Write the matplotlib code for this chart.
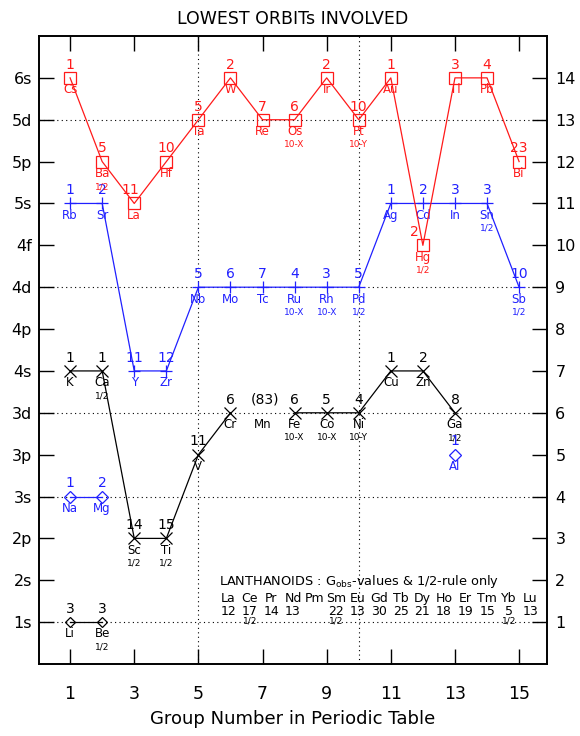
import numpy as np
import matplotlib
matplotlib.use('Agg')
import matplotlib.pyplot as plt

# ---- data ----
orbit_labels = ['1s', '2s', '2p', '3s', '3p', '3d', '4s', '4p', '4d', '4f', '5s', '5p', '5d', '6s']
group_ticks = [1, 3, 5, 7, 9, 11, 13, 15]

# period 2 (black diamonds)
p2_names = ['Li', 'Be']
p2_group = [1, 2]
p2_level = [1, 1]
p2_count = ['3', '3']
p2_note = ['', '1/2']

# period 3 (blue diamonds)
p3_names = ['Na', 'Mg']
p3_group = [1, 2]
p3_level = [4, 4]
p3_count = ['1', '2']
p3_note = ['', '']

# Al, not connected
al_group = [13]
al_level = [5]

# period 4 (black crosses), Mn has no marker
p4_names = ['K', 'Ca', 'Sc', 'Ti', 'V', 'Cr', 'Mn', 'Fe', 'Co', 'Ni', 'Cu', 'Zn', 'Ga']
p4_group = [1, 2, 3, 4, 5, 6, 7, 8, 9, 10, 11, 12, 13]
p4_level = [7, 7, 3, 3, 5, 6, 6, 6, 6, 6, 7, 7, 6]
p4_count = ['1', '1', '14', '15', '11', '6', '(83)', '6', '5', '4', '1', '2', '8']
p4_note = ['', '1/2', '1/2', '1/2', '', '', '', '10-X', '10-X', '10-Y', '', '', '1/2']

# period 5 (blue plus)
p5_names = ['Rb', 'Sr', 'Y', 'Zr', 'Nb', 'Mo', 'Tc', 'Ru', 'Rh', 'Pd', 'Ag', 'Cd', 'In', 'Sn', 'Sb']
p5_group = list(range(1, 16))
p5_level = [11, 11, 7, 7, 9, 9, 9, 9, 9, 9, 11, 11, 11, 11, 9]
p5_count = ['1', '2', '11', '12', '5', '6', '7', '4', '3', '5', '1', '2', '3', '3', '10']
p5_note = ['', '', '', '', '', '', '', '10-X', '10-X', '1/2', '', '', '', '1/2', '1/2']

# period 6 (red squares)
p6_names = ['Cs', 'Ba', 'La', 'Hf', 'Ta', 'W', 'Re', 'Os', 'Ir', 'Pt', 'Au', 'Hg', 'Tl', 'Pb', 'Bi']
p6_group = list(range(1, 16))
p6_level = [14, 12, 11, 12, 13, 14, 13, 13, 14, 13, 14, 10, 14, 14, 12]
p6_count = ['1', '5', '11', '10', '5', '2', '7', '6', '2', '10', '1', '2', '3', '4', '23']
p6_note = ['', '1/2', '', '', '', '', '', '10-X', '', '10-Y', '', '1/2', '', '', '']

# lanthanoids text block
ln_names = ['La', 'Ce', 'Pr', 'Nd', 'Pm', 'Sm', 'Eu', 'Gd', 'Tb', 'Dy', 'Ho', 'Er', 'Tm', 'Yb', 'Lu']
ln_values = ['12', '17', '14', '13', '', '22', '13', '30', '25', '21', '18', '19', '15', '5', '13']
ln_note = ['', '1/2', '', '', '', '1/2', '', '', '', '', '', '', '', '1/2', '']

RED = '#ff1a1a'
BLUE = '#2020ff'
BLACK = 'black'

fig = plt.figure(figsize=(5.8, 7.36), dpi=100)
ax = fig.add_axes([39 / 580, 1 - 664 / 736, 508 / 580, 628 / 736])
ax.set_xlim(0.03, 15.87)
ax.set_ylim(0, 15)

# dotted reference lines
for lv in [1, 4, 6, 9, 13]:
    ax.axhline(lv, color='black', lw=0.8, ls=(0, (1, 3)), zorder=0)
for g in [5, 10]:
    ax.axvline(g, color='black', lw=0.8, ls=(0, (1, 3)), zorder=0)


def series(names, groups, levels, counts, notes, color, marker, ms, skip=()):
    lv = np.array(levels, dtype=float)
    for i, n in enumerate(names):
        if n in skip:
            lv[i] = np.nan
    ax.plot(groups, lv, color=color, lw=0.9, marker=marker, ms=ms,
            mfc='none', mec=color, mew=0.9, zorder=3)
    for g, l, n, c, t in zip(groups, levels, names, counts, notes):
        dx = -6 if n == 'Hg' else (2 if n == 'Mn' else 0)
        dx = -3 if n == 'La' else dx
        ax.annotate(c, (g, l), xytext=(dx, 9.5), textcoords='offset points',
                    ha='center', va='center', fontsize=10, color=color)
        ax.annotate(n, (g, l), xytext=(0, -8.5), textcoords='offset points',
                    ha='center', va='center', fontsize=8.5, color=color)
        if t:
            ax.annotate(t, (g, l), xytext=(0, -18), textcoords='offset points',
                        ha='center', va='center', fontsize=6.5, color=color)


series(p2_names, p2_group, p2_level, p2_count, p2_note, BLACK, 'D', 5)
series(p3_names, p3_group, p3_level, p3_count, p3_note, BLUE, 'D', 6)
series(p4_names, p4_group, p4_level, p4_count, p4_note, BLACK, 'x', 8.5, skip=('Mn',))
series(p5_names, p5_group, p5_level, p5_count, p5_note, BLUE, '+', 8)
series(p6_names, p6_group, p6_level, p6_count, p6_note, RED, 's', 8.5)
series(['Al'], al_group, al_level, ['1'], [''], BLUE, 'D', 6)

# lanthanoid block
ax.text(10.0, 1.98, r'LANTHANOIDS : G$_{\rm obs}$-values & 1/2-rule only',
        ha='center', va='center', fontsize=9.3)
ln_x = 5.93 + 0.673 * np.arange(len(ln_names))
for x, n, v, t in zip(ln_x, ln_names, ln_values, ln_note):
    ax.text(x, 1.57, n, ha='center', va='center', fontsize=9)
    ax.text(x, 1.26, v, ha='center', va='center', fontsize=9)
    if t:
        ax.text(x, 1.02, t, ha='center', va='center', fontsize=6.5)

# axes, ticks
ax.set_xticks(group_ticks)
ax.set_xticklabels([str(g) for g in group_ticks], fontsize=12.5)
ax.set_yticks(range(1, 15))
ax.set_yticklabels(orbit_labels, fontsize=11.5)
ax.tick_params(direction='in', length=11, width=1, top=True, pad=5)
ax.tick_params(axis='x', pad=15)
for s in ax.spines.values():
    s.set_linewidth(1.2)

rax = ax.twinx()
rax.set_ylim(ax.get_ylim())
rax.set_yticks(range(1, 15))
rax.set_yticklabels([str(i) for i in range(1, 15)], fontsize=11.5)
rax.tick_params(direction='in', length=11, width=1, pad=6)
for s in rax.spines.values():
    s.set_linewidth(1.2)

ax.set_xlabel('Group Number in Periodic Table', fontsize=13, labelpad=5)
ax.set_title('LOWEST ORBITs INVOLVED', fontsize=12.5, pad=9)

fig.savefig('out.png', dpi=100)
